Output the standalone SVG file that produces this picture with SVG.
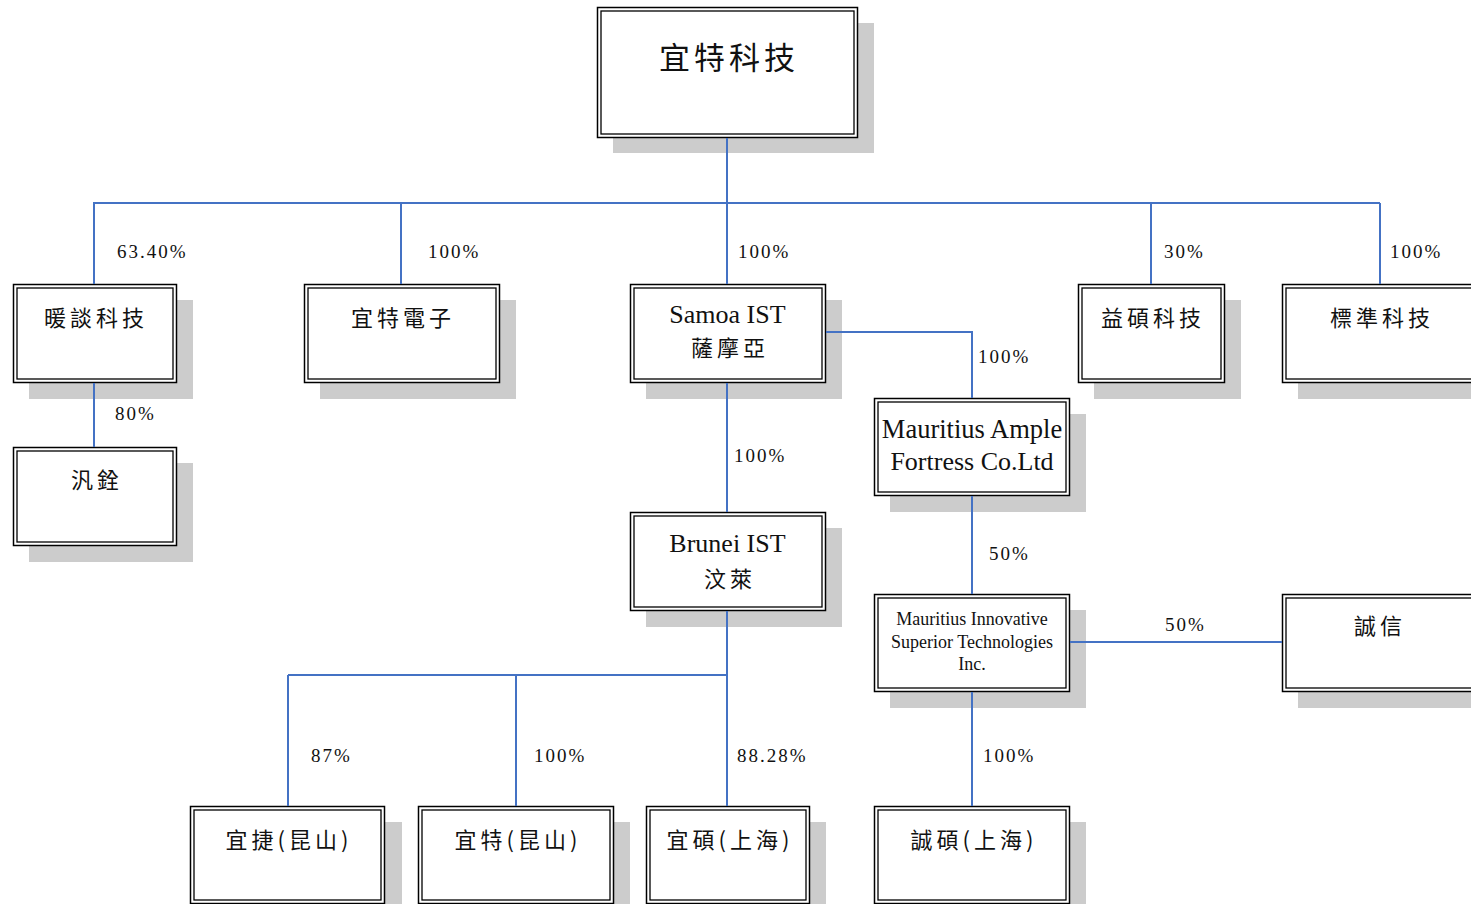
<svg xmlns="http://www.w3.org/2000/svg" width="1471" height="904" viewBox="0 0 1471 904">
<style>
.sh{fill:#cccccc}
.bo{fill:#ffffff;stroke:#000;stroke-width:1.5}
.bi{fill:none;stroke:#000;stroke-width:1.3}
.cj{font-family:"Noto Sans CJK TC","Noto Sans CJK SC",sans-serif;font-size:22px;fill:#111;text-anchor:middle;letter-spacing:4px}
.lt{font-family:"Liberation Serif","Noto Sans CJK TC",serif;fill:#111;text-anchor:middle}
.pc{font-family:"Liberation Serif",serif;font-size:19px;fill:#111;letter-spacing:2px}
.cn{fill:none;stroke:#4472C4;stroke-width:2}
</style>
<rect width="1471" height="904" fill="#ffffff"/>

<g id="n-ist">
<rect class="sh" x="613" y="23" width="261" height="130"/>
<rect class="bo" x="597.5" y="7.5" width="260" height="130"/>
<rect class="bi" x="601" y="11" width="253" height="123"/>
<text class="cj" x="729" y="69" style="font-size:31px">宜特科技</text>
</g>

<g id="n-a">
<rect class="sh" x="29" y="300" width="164" height="99"/>
<rect class="bo" x="13.5" y="284.5" width="163" height="98"/>
<rect class="bi" x="17" y="288" width="156" height="91"/>
<text class="cj" x="96" y="326">暖談科技</text>
</g>

<g id="n-b">
<rect class="sh" x="320" y="300" width="196" height="99"/>
<rect class="bo" x="304.5" y="284.5" width="195" height="98"/>
<rect class="bi" x="308" y="288" width="188" height="91"/>
<text class="cj" x="403" y="326">宜特電子</text>
</g>

<g id="n-samoa">
<rect class="sh" x="646" y="300" width="196" height="99"/>
<rect class="bo" x="630.5" y="284.5" width="195" height="98"/>
<rect class="bi" x="634" y="288" width="188" height="91"/>
<text class="lt" x="727.5" y="323" font-size="26">Samoa IST</text>
<text class="cj" x="730" y="356">薩摩亞</text>
</g>

<g id="n-yishuo">
<rect class="sh" x="1094" y="300" width="147" height="99"/>
<rect class="bo" x="1078.5" y="284.5" width="146" height="98"/>
<rect class="bi" x="1082" y="288" width="139" height="91"/>
<text class="cj" x="1153" y="326">益碩科技</text>
</g>

<g id="n-biaozhun">
<rect class="sh" x="1298" y="300" width="200" height="99"/>
<rect class="bo" x="1282.5" y="284.5" width="200" height="98"/>
<rect class="bi" x="1286" y="288" width="200" height="91"/>
<text class="cj" x="1382" y="326">標準科技</text>
</g>

<g id="n-fanquan">
<rect class="sh" x="29" y="463" width="164" height="99"/>
<rect class="bo" x="13.5" y="447.5" width="163" height="98"/>
<rect class="bi" x="17" y="451" width="156" height="91"/>
<text class="cj" x="97" y="488">汎銓</text>
</g>

<g id="n-mauritius-ample">
<rect class="sh" x="890" y="414" width="196" height="98"/>
<rect class="bo" x="874.5" y="398.5" width="195" height="97"/>
<rect class="bi" x="878" y="402" width="188" height="90"/>
<text class="lt" x="972" y="438" font-size="26.5">Mauritius Ample</text>
<text class="lt" x="972" y="470" font-size="26">Fortress Co.Ltd</text>
</g>

<g id="n-brunei">
<rect class="sh" x="646" y="528" width="196" height="99"/>
<rect class="bo" x="630.5" y="512.5" width="195" height="98"/>
<rect class="bi" x="634" y="516" width="188" height="91"/>
<text class="lt" x="727.5" y="552" font-size="26">Brunei IST</text>
<text class="cj" x="730" y="587">汶萊</text>
</g>

<g id="n-mist">
<rect class="sh" x="890" y="610" width="196" height="98"/>
<rect class="bo" x="874.5" y="594.5" width="195" height="97"/>
<rect class="bi" x="878" y="598" width="188" height="90"/>
<text class="lt" x="972" y="625" font-size="18">Mauritius Innovative</text>
<text class="lt" x="972" y="648" font-size="18">Superior Technologies</text>
<text class="lt" x="972" y="670" font-size="18">Inc.</text>
</g>

<g id="n-chengxin">
<rect class="sh" x="1298" y="610" width="200" height="98"/>
<rect class="bo" x="1282.5" y="594.5" width="200" height="97"/>
<rect class="bi" x="1286" y="598" width="200" height="90"/>
<text class="cj" x="1380" y="634">誠信</text>
</g>

<g id="n-yijie-ks">
<rect class="sh" x="206" y="822" width="196" height="98"/>
<rect class="bo" x="190.5" y="806.5" width="194" height="97"/>
<rect class="bi" x="194" y="810" width="187" height="90"/>
<text class="cj" x="289" y="848">宜捷(昆山)</text>
</g>

<g id="n-yite-ks">
<rect class="sh" x="434" y="822" width="196" height="98"/>
<rect class="bo" x="418.5" y="806.5" width="195" height="97"/>
<rect class="bi" x="422" y="810" width="188" height="90"/>
<text class="cj" x="518" y="848">宜特(昆山)</text>
</g>

<g id="n-yishuo-sh">
<rect class="sh" x="662" y="822" width="164" height="98"/>
<rect class="bo" x="646.5" y="806.5" width="163" height="97"/>
<rect class="bi" x="650" y="810" width="156" height="90"/>
<text class="cj" x="730" y="848">宜碩(上海)</text>
</g>

<g id="n-chengshuo-sh">
<rect class="sh" x="890" y="822" width="196" height="98"/>
<rect class="bo" x="874.5" y="806.5" width="195" height="97"/>
<rect class="bi" x="878" y="810" width="188" height="90"/>
<text class="cj" x="974" y="848">誠碩(上海)</text>
</g>

<g id="connectors">
<path class="cn" d="M727 138V284M93 203H1380M94 203V284M401 203V284M1151 203V284M1380 203V284"/>
<path class="cn" d="M94 383V447"/>
<path class="cn" d="M826 332H972V398"/>
<path class="cn" d="M727 383V512"/>
<path class="cn" d="M972 496V594"/>
<path class="cn" d="M1070 642H1282"/>
<path class="cn" d="M972 692V806"/>
<path class="cn" d="M727 611V806M288 675H727M288 675V806M516 675V806"/>
<text class="pc" x="117" y="258">63.40%</text>
<text class="pc" x="428" y="258">100%</text>
<text class="pc" x="738" y="258">100%</text>
<text class="pc" x="1164" y="258">30%</text>
<text class="pc" x="1390" y="258">100%</text>
<text class="pc" x="978" y="363">100%</text>
<text class="pc" x="115" y="420">80%</text>
<text class="pc" x="734" y="462">100%</text>
<text class="pc" x="989" y="560">50%</text>
<text class="pc" x="1165" y="631">50%</text>
<text class="pc" x="311" y="762">87%</text>
<text class="pc" x="534" y="762">100%</text>
<text class="pc" x="737" y="762">88.28%</text>
<text class="pc" x="983" y="762">100%</text>
</g>
</svg>
